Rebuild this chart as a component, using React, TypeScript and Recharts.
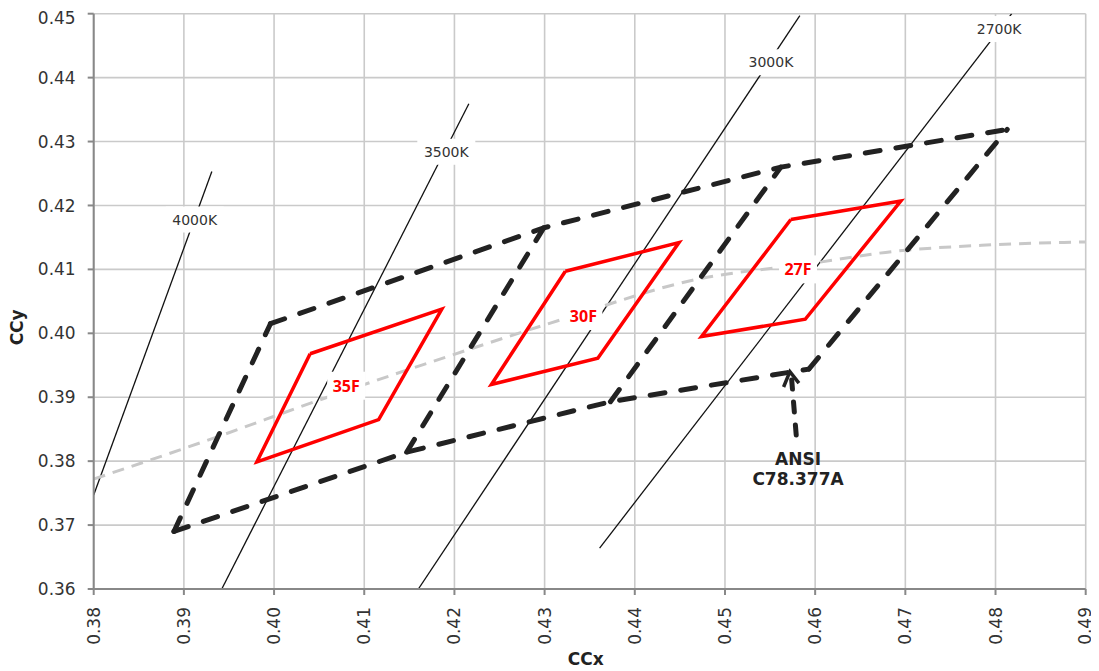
import React from "react";
import {
  ComposedChart,
  XAxis,
  YAxis,
  CartesianGrid,
  Line,
  Scatter,
} from "recharts";

// axis ticks
const xTicks = [0.38, 0.39, 0.4, 0.41, 0.42, 0.43, 0.44, 0.45, 0.46, 0.47, 0.48, 0.49];
const yTicks = [0.36, 0.37, 0.38, 0.39, 0.4, 0.41, 0.42, 0.43, 0.44, 0.45];

// isotherm (CCT) lines
const cct4000K = [
  { x: 0.38, y: 0.3747 },
  { x: 0.3931, y: 0.4253 },
];
const cct3500K = [
  { x: 0.3942, y: 0.36 },
  { x: 0.4216, y: 0.4359 },
];
const cct3000K = [
  { x: 0.416, y: 0.36 },
  { x: 0.4583, y: 0.4497 },
];
const cct2700K = [
  { x: 0.4361, y: 0.3664 },
  { x: 0.4818, y: 0.45 },
];

// planckian locus (gray dashed)
const locusX = [0.38, 0.3933, 0.4051, 0.4191, 0.432, 0.4464, 0.4599, 0.4686, 0.479, 0.49];
const locusY = [0.3772, 0.3836, 0.3896, 0.3963, 0.4022, 0.4083, 0.411, 0.4128, 0.4138, 0.4143];

// ANSI C78.377A quadrangle corners (3500K, 3000K, 2700K share edges)
const ansiTop = [
  { x: 0.3996, y: 0.4015 },
  { x: 0.4299, y: 0.4165 },
  { x: 0.4562, y: 0.426 },
  { x: 0.4813, y: 0.4319 },
];
const ansiBottom = [
  { x: 0.3889, y: 0.369 },
  { x: 0.4147, y: 0.3814 },
  { x: 0.4373, y: 0.3893 },
  { x: 0.4593, y: 0.3944 },
];

// arrow pointing at the ANSI box
const arrowShaft = [
  { x: 0.4579, y: 0.3841 },
  { x: 0.4574, y: 0.3927 },
];
const arrowHead = [
  { x: 0.4565, y: 0.3916 },
  { x: 0.4572, y: 0.394 },
  { x: 0.4582, y: 0.3922 },
];

// red bins
const bin35F = [
  { x: 0.404, y: 0.3968 },
  { x: 0.4186, y: 0.4038 },
  { x: 0.4116, y: 0.3865 },
  { x: 0.3981, y: 0.3799 },
  { x: 0.404, y: 0.3968 },
];
const bin30F = [
  { x: 0.4323, y: 0.4097 },
  { x: 0.4449, y: 0.4142 },
  { x: 0.4359, y: 0.3961 },
  { x: 0.4241, y: 0.392 },
  { x: 0.4323, y: 0.4097 },
];
const bin27F = [
  { x: 0.4573, y: 0.4178 },
  { x: 0.4695, y: 0.4207 },
  { x: 0.4589, y: 0.4022 },
  { x: 0.4474, y: 0.3995 },
  { x: 0.4573, y: 0.4178 },
];

// text labels
const cctLabels = [
  { x: 0.3912, y: 0.4178, text: "4000K" },
  { x: 0.4191, y: 0.4284, text: "3500K" },
  { x: 0.4551, y: 0.4424, text: "3000K" },
  { x: 0.4804, y: 0.4476, text: "2700K" },
];
const binLabels = [
  { x: 0.408, y: 0.3918, text: "35F" },
  { x: 0.4343, y: 0.4027, text: "30F" },
  { x: 0.4581, y: 0.41, text: "27F" },
];
const ansiLabel = [{ x: 0.4581, y: 0.3787, text: ["ANSI", "C78.377A"] }];

const locus = locusX.map((x, i) => ({ x, y: locusY[i] }));
const ansiSides = ansiBottom.map((b, i) => [b, ansiTop[i]]);

const FONT = "DejaVu Sans";

const XTick = (props: any) => {
  const { x, y, payload } = props;
  return (
    <text
      x={x}
      y={y}
      transform={`rotate(-90 ${x} ${y})`}
      textAnchor="end"
      dominantBaseline="central"
      fontSize={17}
      fontFamily={FONT}
      fill="#333"
    >
      {Number(payload.value).toFixed(2)}
    </text>
  );
};

const cctLabelShape = (props: any) => {
  const { cx, cy, payload } = props;
  return (
    <g>
      <rect x={cx - 29} y={cy - 13} width={58} height={26} fill="#fff" />
      <text
        x={cx}
        y={cy}
        textAnchor="middle"
        dominantBaseline="central"
        fontSize={14}
        fontFamily={FONT}
        fill="#333"
      >
        {payload.text}
      </text>
    </g>
  );
};

const binLabelShape = (props: any) => {
  const { cx, cy, payload } = props;
  return (
    <g>
      <rect x={cx - 19} y={cy - 14} width={38} height={28} fill="#fff" />
      <text
        x={cx}
        y={cy}
        textAnchor="middle"
        dominantBaseline="central"
        fontSize={16}
        fontWeight="bold"
        fontFamily="Open Sans"
        fill="#ff0000"
      >
        {payload.text}
      </text>
    </g>
  );
};

const ansiLabelShape = (props: any) => {
  const { cx, cy, payload } = props;
  return (
    <text
      x={cx}
      y={cy}
      textAnchor="middle"
      fontSize={17}
      fontWeight="bold"
      fontFamily={FONT}
      fill="#222"
    >
      <tspan x={cx} dy={-4}>{payload.text[0]}</tspan>
      <tspan x={cx} dy={20}>{payload.text[1]}</tspan>
    </text>
  );
};

const yTitle = (p: any) => {
  const vb = p.viewBox;
  const cx = vb.x + 9;
  const cy = vb.y + vb.height / 2 + 26;
  return (
    <text
      x={cx}
      y={cy}
      transform={`rotate(-90 ${cx} ${cy})`}
      textAnchor="middle"
      dominantBaseline="central"
      fontSize={17}
      fontWeight="bold"
      fontFamily={FONT}
      fill="#222"
    >
      CCy
    </text>
  );
};

const xTitle = (p: any) => {
  const vb = p.viewBox;
  return (
    <text
      x={vb.x + vb.width / 2 - 4}
      y={vb.y + 70}
      textAnchor="middle"
      dominantBaseline="central"
      fontSize={17}
      fontWeight="bold"
      fontFamily={FONT}
      fill="#222"
    >
      CCx
    </text>
  );
};

const dashed = { stroke: "#222", strokeWidth: 5, strokeDasharray: "15 16", strokeLinecap: "round" as const };

export default function App() {
  return (
    <ComposedChart
      width={1091}
      height={663}
      margin={{ top: 5.7, right: 13.3, left: 0, bottom: 0 }}
    >
      <CartesianGrid stroke="#cacaca" strokeWidth={1.6} />
      <XAxis
        type="number"
        dataKey="x"
        domain={[0.38, 0.49]}
        ticks={xTicks}
        allowDataOverflow
        height={82}
        tickSize={6}
        tickMargin={12}
        tick={<XTick />}
        stroke="#888"
        strokeWidth={2}
        label={{ content: xTitle }}
      />
      <YAxis
        type="number"
        dataKey="y"
        domain={[0.36, 0.45]}
        ticks={yTicks}
        allowDataOverflow
        width={85.7}
        tickSize={6}
        tickMargin={12}
        tickFormatter={(v: number) => v.toFixed(2)}
        tick={{ fontSize: 17, fontFamily: FONT, fill: "#333" }}
        stroke="#888"
        strokeWidth={2}
        label={{ content: yTitle }}
      />

      {[cct4000K, cct3500K, cct3000K, cct2700K].map((d, i) => (
        <Line
          key={`cct${i}`}
          data={d}
          dataKey="y"
          type="linear"
          stroke="#111"
          strokeWidth={1.3}
          dot={false}
          activeDot={false}
          isAnimationActive={false}
        />
      ))}

      <Line
        data={locus}
        dataKey="y"
        type="monotone"
        stroke="#c8c8c8"
        strokeWidth={3}
        strokeDasharray="12 8"
        dot={false}
        activeDot={false}
        isAnimationActive={false}
      />

      <Line data={ansiTop} dataKey="y" type="linear" {...dashed} dot={false} activeDot={false} isAnimationActive={false} />
      <Line data={ansiBottom} dataKey="y" type="linear" {...dashed} dot={false} activeDot={false} isAnimationActive={false} />
      {ansiSides.map((d, i) => (
        <Line
          key={`side${i}`}
          data={d}
          dataKey="y"
          type="linear"
          {...dashed}
          dot={false}
          activeDot={false}
          isAnimationActive={false}
        />
      ))}
      <Line data={arrowShaft} dataKey="y" type="linear" {...dashed} strokeDasharray="10 13" dot={false} activeDot={false} isAnimationActive={false} />
      <Line data={arrowHead} dataKey="y" type="linear" stroke="#222" strokeWidth={3.5} strokeDasharray="none" dot={false} activeDot={false} isAnimationActive={false} />

      {[bin35F, bin30F, bin27F].map((d, i) => (
        <Line
          key={`bin${i}`}
          data={d}
          dataKey="y"
          type="linear"
          stroke="#ff0000"
          strokeWidth={3.5}
          strokeLinejoin="miter"
          dot={false}
          activeDot={false}
          isAnimationActive={false}
        />
      ))}

      <Scatter data={cctLabels} dataKey="y" shape={cctLabelShape} isAnimationActive={false} />
      <Scatter data={binLabels} dataKey="y" shape={binLabelShape} isAnimationActive={false} />
      <Scatter data={ansiLabel} dataKey="y" shape={ansiLabelShape} isAnimationActive={false} />
    </ComposedChart>
  );
}
